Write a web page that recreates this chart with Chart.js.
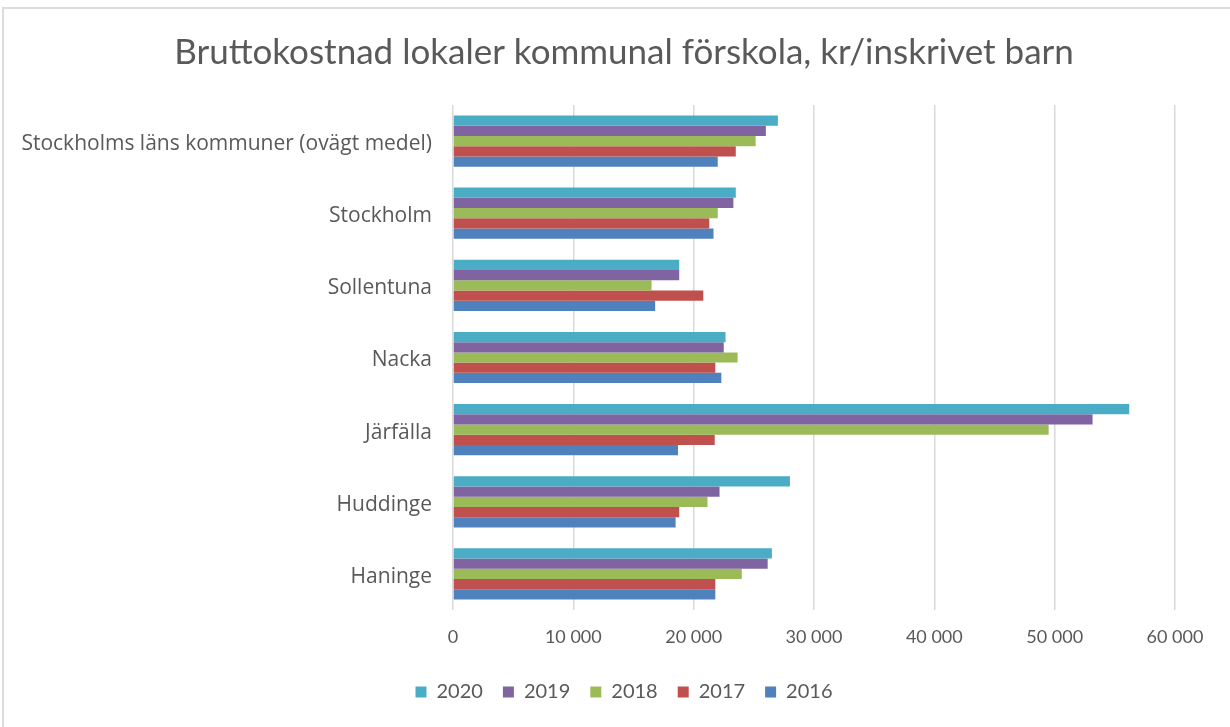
<!DOCTYPE html>
<html>
<head>
<meta charset="utf-8">
<script src="https://cdn.jsdelivr.net/npm/chart.js"></script>
<style>
  html, body { margin: 0; padding: 0; background: #fff; }
  #wrap { position: relative; width: 1230px; height: 727px; overflow: hidden; }
  #frame { position: absolute; left: 2px; top: 7px; width: 1260px; height: 760px; border: 2px solid #dcdcdc; box-sizing: border-box; }
  #chart { position: absolute; left: 0; top: 0; }
</style>
</head>
<body>
<div id="wrap">
  <div id="frame"></div>
  <canvas id="chart" width="1230" height="727"></canvas>
</div>
<script>
  // Data
  const categories = [
    'Stockholms läns kommuner (ovägt medel)',
    'Stockholm',
    'Sollentuna',
    'Nacka',
    'Järfälla',
    'Huddinge',
    'Haninge'
  ];
  const years = ['2020', '2019', '2018', '2017', '2016'];
  const values2020 = [27000, 23500, 18800, 22650, 56200, 28000, 26500];
  const values2019 = [26000, 23300, 18800, 22500, 53150, 22150, 26150];
  const values2018 = [25150, 22000, 16500, 23650, 49500, 21150, 24000];
  const values2017 = [23500, 21300, 20800, 21800, 21750, 18800, 21800];
  const values2016 = [22000, 21650, 16800, 22300, 18700, 18500, 21800];
  const xTicks = [0, 10000, 20000, 30000, 40000, 50000, 60000];

  const seriesValues = [values2020, values2019, values2018, values2017, values2016];
  const colors = ['#4BACC6', '#8064A2', '#9BBB59', '#C0504D', '#4F81BD'];
  const textColor = '#595959';

  function fmt(v) {
    return String(v).replace(/\B(?=(\d{3})+(?!\d))/g, ' ');
  }

  // title and legend sit a bit right of the canvas centre, like in Excel
  const shiftBlocks = {
    id: 'shiftBlocks',
    afterLayout(chart) {
      [chart.titleBlock, chart.legend].forEach((b) => { if (b) b.left = 73; });
    }
  };

  new Chart(document.getElementById('chart'), {
    type: 'bar',
    data: {
      labels: categories,
      datasets: years.map((y, i) => ({
        label: y,
        data: seriesValues[i],
        backgroundColor: colors[i],
        borderWidth: 0,
        barPercentage: 1,
        categoryPercentage: 0.71
      }))
    },
    plugins: [shiftBlocks],
    options: {
      indexAxis: 'y',
      responsive: false,
      devicePixelRatio: 1,
      animation: false,
      layout: { padding: { left: 0, right: 55, top: 10, bottom: 15 } },
      plugins: {
        title: {
          display: true,
          text: 'Bruttokostnad lokaler kommunal förskola, kr/inskrivet barn',
          color: textColor,
          font: { family: 'Lato', size: 35, weight: 'normal' },
          padding: { top: 22, bottom: 31 }
        },
        legend: {
          position: 'bottom',
          labels: {
            color: textColor,
            font: { family: 'Lato', size: 20 },
            boxWidth: 11,
            boxHeight: 11,
            padding: 20
          }
        },
        tooltip: { enabled: false }
      },
      scales: {
        x: {
          min: 0,
          max: 60000,
          afterBuildTicks: (s) => { s.ticks = xTicks.map((v) => ({ value: v })); },
          afterFit: (s) => { s.height = 52; },
          ticks: {
            color: textColor,
            font: { family: 'Lato', size: 18 },
            padding: 16,
            callback: (v) => fmt(v)
          },
          grid: { color: '#d9d9d9', lineWidth: 1.5, drawTicks: false },
          border: { display: false }
        },
        y: {
          afterFit: (s) => { s.width = 453; },
          ticks: {
            color: textColor,
            font: { family: 'Open Sans', size: 21 },
            padding: 13,
            labelOffset: 3
          },
          grid: { display: false },
          border: { display: false }
        }
      }
    }
  });
</script>
</body>
</html>
